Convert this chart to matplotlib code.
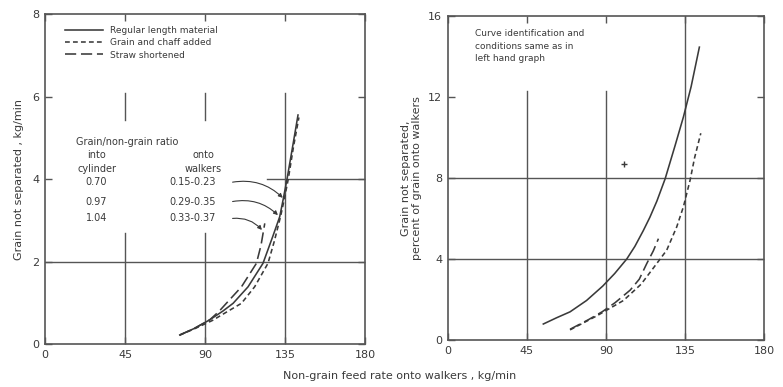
import matplotlib
matplotlib.use("Agg")
import matplotlib.pyplot as plt

# ---- data ----
left_regular_x = [75.8, 84, 92.7, 100, 105.8, 114.2, 122.6, 128, 132, 133.9, 136.1, 139.5, 142.3]
left_regular_y = [0.22, 0.38, 0.59, 0.80, 0.99, 1.39, 1.96, 2.6, 3.09, 3.5, 4.0, 4.85, 5.56]
left_chaff_x = [75.8, 84, 94, 103, 110.5, 117.9, 125.4, 129, 132.5, 134.5, 136.8, 139.8, 142.8]
left_chaff_y = [0.22, 0.37, 0.57, 0.80, 0.99, 1.39, 1.96, 2.5, 3.1, 3.5, 4.0, 4.8, 5.5]
left_straw_x = [75.8, 84, 92.7, 98, 102, 110.5, 118.9, 121.5, 123.6]
left_straw_y = [0.22, 0.38, 0.59, 0.80, 0.99, 1.39, 1.96, 2.4, 2.93]

right_regular_x = [54.4, 62, 69.6, 79, 88.2, 95, 101.9, 106.5, 111.3, 115, 119, 123.7, 129.4,
                   134.1, 138.5, 143.2]
right_regular_y = [0.79, 1.1, 1.39, 1.95, 2.66, 3.28, 4.0, 4.62, 5.4, 6.05, 6.85, 7.95, 9.6,
                   11.0, 12.5, 14.45]
right_chaff_x = [69.6, 85, 100, 110, 117, 124.6, 130.3, 134.1, 137.9, 140.5, 144]
right_chaff_y = [0.5, 1.2, 1.95, 2.75, 3.55, 4.43, 5.58, 6.57, 7.88, 9.0, 10.2]
right_straw_x = [69.6, 80, 88, 95.2, 103.8, 109, 113.3, 117, 119.9]
right_straw_y = [0.53, 1.0, 1.4, 1.84, 2.46, 3.0, 3.78, 4.4, 5.0]
stray_point = (100.3, 8.7)

legend_labels = ["Regular length material", "Grain and chaff added", "Straw shortened"]
x_ticks = [0, 45, 90, 135, 180]
left_y_ticks = [0, 2, 4, 6, 8]
right_y_ticks = [0, 4, 8, 12, 16]
ratio_into = ["0.70", "0.97", "1.04"]
ratio_onto = ["0.15-0.23", "0.29-0.35", "0.33-0.37"]

ink = "#3a3a3a"
grid_c = "#555555"
fs = 7.5

fig = plt.figure(figsize=(7.83, 3.87), dpi=100)
axL = fig.add_axes([0.0575, 0.1109, 0.4087, 0.8517])
axR = fig.add_axes([0.5718, 0.1214, 0.4040, 0.8380])

styles = [dict(ls="-", lw=1.15), dict(ls=(0, (3, 2)), lw=1.15), dict(ls=(0, (7, 3)), lw=1.15)]

for ax, yt in ((axL, left_y_ticks), (axR, right_y_ticks)):
    ax.set_xlim(0, 180)
    ax.set_ylim(yt[0], yt[-1])
    ax.set_xticks(x_ticks)
    ax.set_yticks(yt)
    ax.tick_params(direction="in", length=5, width=1, colors=grid_c, labelcolor=ink,
                   labelsize=fs + 0.5, top=True, right=True, pad=4)
    for s in ax.spines.values():
        s.set_color(grid_c)
        s.set_linewidth(1.2)

# ---- left grid segments ----
gk = dict(color=grid_c, lw=1.0, zorder=0)
for xv in (45, 90):
    axL.axvline(xv, ymin=0, ymax=2.7 / 8, **gk)
    axL.axvline(xv, ymin=5.45 / 8, ymax=6.1 / 8, **gk)
axL.axvline(135, ymin=0, ymax=6.1 / 8, **gk)
axL.axhline(2, **gk)
axL.axhline(4, xmin=125 / 180, xmax=1, **gk)

# ---- right grid segments ----
for xv in (45, 90):
    axR.axvline(xv, ymin=0, ymax=12.3 / 16, **gk)
axR.axvline(135, **gk)
axR.axhline(4, **gk)
axR.axhline(8, **gk)

# ---- curves ----
lines = []
for (x, y), st in zip([(left_regular_x, left_regular_y), (left_chaff_x, left_chaff_y),
                       (left_straw_x, left_straw_y)], styles):
    ln, = axL.plot(x, y, color=ink, **st)
    lines.append(ln)
for (x, y), st in zip([(right_regular_x, right_regular_y), (right_chaff_x, right_chaff_y),
                       (right_straw_x, right_straw_y)], styles):
    axR.plot(x, y, color=ink, **st)
axR.plot([stray_point[0]], [stray_point[1]], marker="+", ms=4, color=ink, mew=1)

leg = axL.legend(lines, legend_labels, loc="upper left", bbox_to_anchor=(0.05, 0.975),
                 frameon=False, fontsize=fs - 1, handlelength=4.2, handletextpad=0.8,
                 labelspacing=0.35, borderaxespad=0)
for t in leg.get_texts():
    t.set_color(ink)

# ---- left text block ----
tk = dict(fontsize=fs - 0.5, color=ink, ha="center", va="center")
axL.text(46, 4.9, "Grain/non-grain ratio", **tk)
axL.text(29, 4.59, "into", **tk)
axL.text(29, 4.24, "cylinder", **tk)
axL.text(89, 4.59, "onto", **tk)
axL.text(89, 4.24, "walkers", **tk)
rows_y = [3.93, 3.46, 3.05]
arrow_to = [(133.7, 3.55), (131.0, 3.13), (122.0, 2.77)]
for r_in, r_on, yy, tgt in zip(ratio_into, ratio_onto, rows_y, arrow_to):
    axL.text(29, yy, r_in, **tk)
    axL.text(83, yy, r_on, **tk)
    axL.annotate("", xy=tgt, xytext=(105.5, yy),
                 arrowprops=dict(arrowstyle="-|>", color=ink, lw=0.8, mutation_scale=6,
                                 connectionstyle="arc3,rad=-0.25", shrinkA=0, shrinkB=0))

# ---- right text ----
axR.text(15.5, 14.5, "Curve identification and\nconditions same as in\nleft hand graph",
         fontsize=fs - 1, color=ink, ha="left", va="center", linespacing=1.5)

# ---- axis labels ----
axL.set_ylabel("Grain not separated , kg/min", fontsize=fs + 0.5, color=ink, labelpad=6)
axR.set_ylabel("Grain not separated,\npercent of grain onto walkers", fontsize=fs + 0.5,
               color=ink, labelpad=4)
fig.text(400 / 783, 1 - 376 / 387, "Non-grain feed rate onto walkers , kg/min",
         fontsize=fs + 0.5, color=ink, ha="center", va="center")

fig.savefig("out.png", dpi=100)
